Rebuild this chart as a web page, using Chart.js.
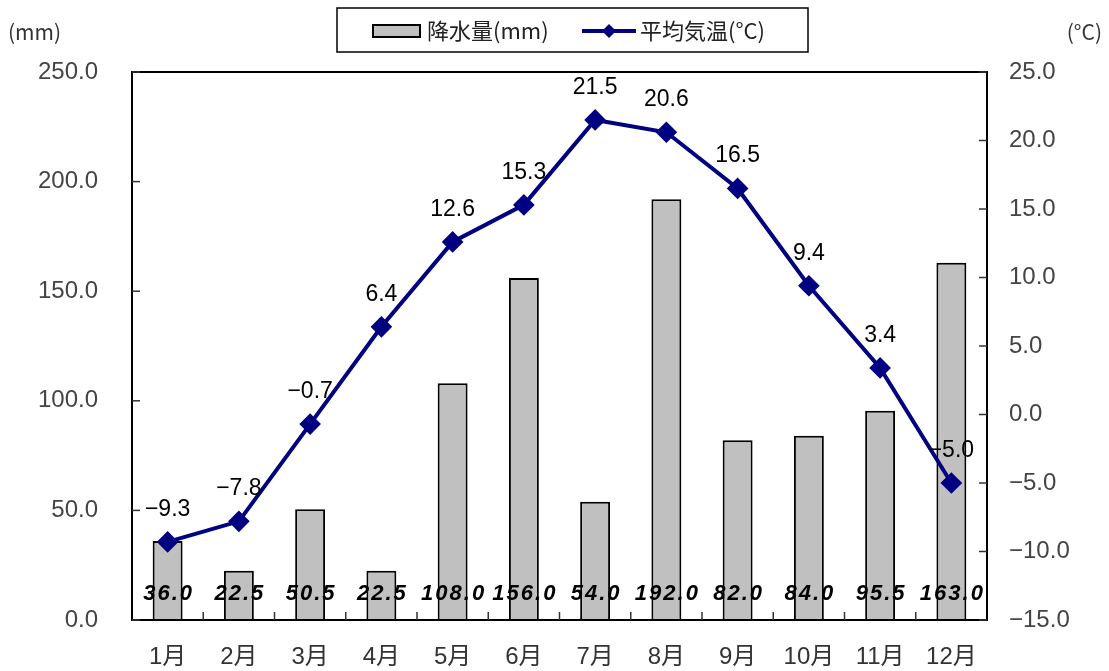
<!DOCTYPE html>
<html><head><meta charset="utf-8">
<script src="https://cdn.jsdelivr.net/npm/chart.js@4/dist/chart.umd.min.js"></script>
<style>html,body{margin:0;padding:0;background:#fff}#wrap{width:1109px;height:671px}</style>
</head><body><div id="wrap"><canvas id="c" width="1109" height="671"></canvas></div>
<script>
const categories = ['1月','2月','3月','4月','5月','6月','7月','8月','9月','10月','11月','12月'];
const precipitation = [36.0,22.5,50.5,22.5,108.0,156.0,54.0,192.0,82.0,84.0,95.5,163.0];
const temperature = [-9.3,-7.8,-0.7,6.4,12.6,15.3,21.5,20.6,16.5,9.4,3.4,-5.0];
const leftTicks = [0,50,100,150,200,250];
const rightTicks = [-15,-10,-5,0,5,10,15,20,25];
const seriesNames = ['降水量(mm)','平均気温(°C)'];
const axisTitles = ['(mm)','(°C)'];

const FONT = '"Liberation Sans", "Noto Sans CJK JP", sans-serif';
const CJK = '"Noto Sans CJK JP", sans-serif';
const NAVY = '#000080';

const decor = {
  id: 'decor',
  afterDatasetsDraw(chart) {
    const ctx = chart.ctx, a = chart.chartArea;
    ctx.save();
    ctx.strokeStyle = '#000'; ctx.lineWidth = 2;
    ctx.strokeRect(a.left, a.top, a.right - a.left, a.bottom - a.top);
    ctx.lineWidth = 1.5; ctx.strokeStyle = '#333';
    const yl = chart.scales.y, yr = chart.scales.y2;
    leftTicks.forEach(v => { const p = yl.getPixelForValue(v); ctx.beginPath(); ctx.moveTo(a.left, p); ctx.lineTo(a.left + 8, p); ctx.stroke(); });
    rightTicks.forEach(v => { const p = yr.getPixelForValue(v); ctx.beginPath(); ctx.moveTo(a.right, p); ctx.lineTo(a.right - 8, p); ctx.stroke(); });
    const cw = (a.right - a.left) / categories.length;
    for (let i = 1; i < categories.length; i++) { const p = a.left + cw * i; ctx.beginPath(); ctx.moveTo(p, a.bottom); ctx.lineTo(p, a.bottom - 8); ctx.stroke(); }
    // bar value labels
    ctx.fillStyle = '#000';
    ctx.font = 'italic bold 22px "Liberation Sans", Arial, sans-serif';
    try { ctx.letterSpacing = '2px'; } catch (e) {}
    ctx.textAlign = 'center'; ctx.textBaseline = 'middle';
    chart.getDatasetMeta(0).data.forEach((el, i) => {
      ctx.fillText(precipitation[i].toFixed(1), el.x + 1, a.bottom - 26);
    });
    try { ctx.letterSpacing = '0px'; } catch (e) {}
    // line labels
    ctx.font = '23px "Liberation Sans", sans-serif';
    ctx.textBaseline = 'alphabetic';
    chart.getDatasetMeta(1).data.forEach((el, i) => {
      const t = temperature[i].toFixed(1).replace('-', '−');
      ctx.fillText(t, el.x, el.y - 26);
    });
    // axis titles
    ctx.font = '21px ' + CJK; ctx.fillStyle = '#333'; ctx.textBaseline = 'middle';
    ctx.textAlign = 'left'; ctx.fillText(axisTitles[0], 8, 32);
    ctx.textAlign = 'right'; ctx.fillText(axisTitles[1], 1102, 32);
    // legend
    ctx.strokeStyle = '#000'; ctx.lineWidth = 1.5;
    ctx.strokeRect(337, 8, 471, 44);
    ctx.fillStyle = '#c0c0c0'; ctx.fillRect(373, 25, 47, 12);
    ctx.strokeStyle = '#000'; ctx.lineWidth = 2; ctx.strokeRect(373, 25, 47, 12);
    ctx.fillStyle = '#222'; ctx.font = '22px ' + CJK; ctx.textAlign = 'left';
    ctx.fillText(seriesNames[0], 427, 31);
    ctx.strokeStyle = NAVY; ctx.lineWidth = 4;
    ctx.beginPath(); ctx.moveTo(582, 31); ctx.lineTo(636, 31); ctx.stroke();
    ctx.fillStyle = NAVY; ctx.beginPath(); ctx.moveTo(609, 24); ctx.lineTo(616, 31); ctx.lineTo(609, 38); ctx.lineTo(602, 31); ctx.closePath(); ctx.fill();
    ctx.fillStyle = '#222'; ctx.fillText(seriesNames[1], 640, 31);
    ctx.restore();
  }
};

new Chart(document.getElementById('c'), {
  data: {
    labels: categories,
    datasets: [
      { type: 'bar', label: seriesNames[0], data: precipitation, yAxisID: 'y', backgroundColor: '#c0c0c0', borderColor: '#000', borderWidth: 2, categoryPercentage: 1, barPercentage: 0.42, order: 2 },
      { type: 'line', label: seriesNames[1], data: temperature, yAxisID: 'y2', borderColor: NAVY, borderWidth: 4, pointStyle: 'rectRot', pointRadius: 8, pointBackgroundColor: NAVY, pointBorderColor: NAVY, tension: 0, order: 1 }
    ]
  },
  options: {
    responsive: false, animation: false,
    layout: { padding: { top: 72, left: 0, right: 0, bottom: 0 } },
    plugins: { legend: { display: false }, tooltip: { enabled: false } },
    scales: {
      x: { grid: { display: false, drawTicks: false }, border: { display: false },
           ticks: { font: { family: FONT, size: 24 }, color: '#333', padding: 23 },
           afterFit: s => { s.height = 51; } },
      y: { position: 'left', min: 0, max: 250, grid: { display: false, drawTicks: false }, border: { display: false },
           afterBuildTicks: s => { s.ticks = leftTicks.map(v => ({ value: v })); },
           ticks: { font: { family: FONT, size: 24 }, color: '#444', padding: 34, callback: v => Number(v).toFixed(1) },
           afterFit: s => { s.width = 132; } },
      y2: { position: 'right', min: -15, max: 25, grid: { display: false, drawTicks: false }, border: { display: false },
           afterBuildTicks: s => { s.ticks = rightTicks.map(v => ({ value: v })); },
           ticks: { font: { family: FONT, size: 24 }, color: '#444', padding: 22, callback: v => Number(v).toFixed(1).replace('-', '−') },
           afterFit: s => { s.width = 122; } }
    }
  },
  plugins: [decor]
});
</script></body></html>
